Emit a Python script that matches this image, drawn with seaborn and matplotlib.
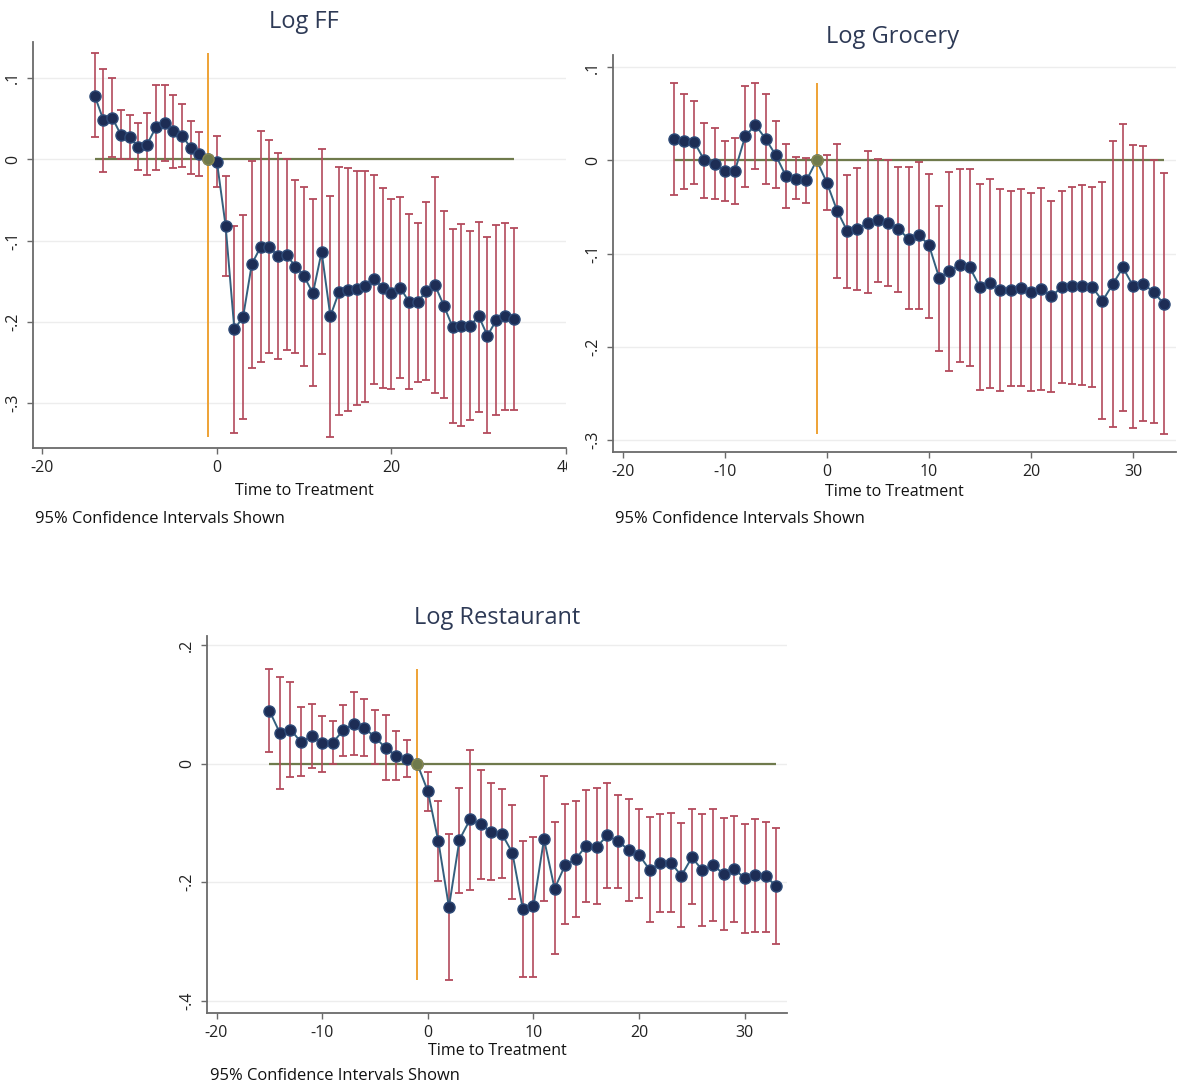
import numpy as np
import pandas as pd
import matplotlib
matplotlib.use("Agg")
import matplotlib.pyplot as plt
import seaborn as sns
from matplotlib.patches import Rectangle

# ---------------- data ----------------
ff_t = list(range(-14, 35))
ff_coef = [0.078, 0.048, 0.051, 0.030, 0.027, 0.015, 0.018, 0.039, 0.045, 0.034,
           0.029, 0.014, 0.0065, 0.0, -0.003, -0.082, -0.209, -0.194, -0.129, -0.108,
           -0.108, -0.119, -0.118, -0.132, -0.144, -0.165, -0.114, -0.193, -0.163, -0.161,
           -0.159, -0.156, -0.147, -0.158, -0.165, -0.158, -0.175, -0.176, -0.162, -0.155,
           -0.180, -0.206, -0.205, -0.205, -0.193, -0.217, -0.198, -0.193, -0.197]
ff_lo = [0.027, -0.016, 0.003, 0.000, 0.000, -0.013, -0.020, -0.013, -0.002, -0.011,
         -0.010, -0.018, -0.021, np.nan, -0.034, -0.143, -0.337, -0.319, -0.257, -0.249,
         -0.238, -0.245, -0.234, -0.238, -0.254, -0.279, -0.240, -0.341, -0.315, -0.310,
         -0.302, -0.298, -0.276, -0.281, -0.283, -0.269, -0.282, -0.274, -0.271, -0.288,
         -0.294, -0.324, -0.328, -0.321, -0.311, -0.337, -0.314, -0.308, -0.308]
ff_hi = [0.130, 0.111, 0.100, 0.061, 0.054, 0.044, 0.057, 0.091, 0.091, 0.079,
         0.068, 0.047, 0.033, np.nan, 0.028, -0.021, -0.082, -0.069, -0.002, 0.035,
         0.023, 0.007, 0.000, -0.025, -0.034, -0.049, 0.013, -0.045, -0.010, -0.011,
         -0.015, -0.014, -0.020, -0.035, -0.049, -0.046, -0.067, -0.078, -0.053, -0.022,
         -0.064, -0.086, -0.080, -0.088, -0.077, -0.096, -0.081, -0.079, -0.085]

gr_t = list(range(-15, 34))
gr_coef = [0.0225, 0.0204, 0.0197, 0.0, -0.0036, -0.0118, -0.011, 0.0258, 0.038, 0.023,
           0.0054, -0.0172, -0.0197, -0.0215, 0.0, -0.024, -0.054, -0.076, -0.074, -0.067,
           -0.064, -0.067, -0.074, -0.084, -0.080, -0.091, -0.126, -0.119, -0.112, -0.115,
           -0.136, -0.132, -0.139, -0.139, -0.137, -0.141, -0.138, -0.146, -0.136, -0.135,
           -0.135, -0.136, -0.151, -0.133, -0.115, -0.135, -0.133, -0.141, -0.154]
gr_lo = [-0.0375, -0.031, -0.0258, -0.040, -0.042, -0.044, -0.0465, -0.029, -0.0097, -0.0258,
         -0.030, -0.051, -0.042, -0.046, np.nan, -0.053, -0.126, -0.137, -0.139, -0.142,
         -0.131, -0.135, -0.141, -0.160, -0.160, -0.169, -0.205, -0.226, -0.216, -0.221,
         -0.246, -0.244, -0.248, -0.242, -0.242, -0.248, -0.246, -0.249, -0.2385, -0.240,
         -0.241, -0.243, -0.278, -0.286, -0.269, -0.287, -0.280, -0.282, -0.294]
gr_hi = [0.083, 0.0715, 0.0637, 0.040, 0.0347, 0.0207, 0.0243, 0.080, 0.083, 0.0715,
         0.0418, 0.018, 0.0036, 0.0029, np.nan, 0.0054, 0.018, -0.016, -0.0079, 0.010,
         0.0018, 0.0007, -0.007, -0.007, -0.002, -0.015, -0.049, -0.0125, -0.0097, -0.009,
         -0.025, -0.0197, -0.031, -0.033, -0.031, -0.035, -0.030, -0.044, -0.033, -0.029,
         -0.027, -0.0286, -0.0236, 0.0207, 0.039, 0.0168, 0.015, 0.0, -0.0136]

rs_t = list(range(-15, 34))
rs_coef = [0.090, 0.052, 0.058, 0.0367, 0.047, 0.0344, 0.0356, 0.057, 0.068, 0.061,
           0.045, 0.027, 0.014, 0.0085, 0.0, -0.046, -0.131, -0.242, -0.128, -0.094,
           -0.102, -0.115, -0.118, -0.150, -0.246, -0.241, -0.127, -0.211, -0.171, -0.161,
           -0.138, -0.140, -0.121, -0.131, -0.145, -0.154, -0.179, -0.168, -0.167, -0.189,
           -0.158, -0.180, -0.171, -0.186, -0.178, -0.193, -0.188, -0.190, -0.207]
rs_lo = [0.020, -0.042, -0.023, -0.021, -0.007, -0.0136, 0.0005, 0.0124, 0.0153, 0.0124,
         -0.001, -0.028, -0.027, -0.023, np.nan, -0.079, -0.198, -0.366, -0.219, -0.213,
         -0.195, -0.197, -0.193, -0.229, -0.360, -0.361, -0.232, -0.322, -0.271, -0.258,
         -0.233, -0.237, -0.210, -0.210, -0.231, -0.227, -0.268, -0.250, -0.250, -0.275,
         -0.237, -0.274, -0.266, -0.280, -0.268, -0.286, -0.284, -0.284, -0.305]
rs_hi = [0.161, 0.146, 0.138, 0.096, 0.1005, 0.081, 0.0717, 0.100, 0.122, 0.110,
         0.091, 0.082, 0.055, 0.0395, np.nan, -0.0136, -0.063, -0.119, -0.040, 0.024,
         -0.0097, -0.032, -0.042, -0.069, -0.131, -0.123, -0.021, -0.099, -0.068, -0.063,
         -0.045, -0.041, -0.032, -0.052, -0.059, -0.077, -0.089, -0.085, -0.083, -0.100,
         -0.077, -0.084, -0.076, -0.0915, -0.0876, -0.101, -0.0927, -0.098, -0.1085]

titles = ["Log FF", "Log Grocery", "Log Restaurant"]
xlabel = "Time to Treatment"
note = "95% Confidence Intervals Shown"
ref_period = -1

ff_xticks = [-20, 0, 20, 40]
gr_xticks = [-20, -10, 0, 10, 20, 30]
rs_xticks = [-20, -10, 0, 10, 20, 30]
ff_yticks = [-0.3, -0.2, -0.1, 0.0, 0.1]
ff_ylabels = ["-.3", "-.2", "-.1", "0", ".1"]
gr_yticks = [-0.3, -0.2, -0.1, 0.0, 0.1]
gr_ylabels = ["-.3", "-.2", "-.1", "0", ".1"]
rs_yticks = [-0.4, -0.2, 0.0, 0.2]
rs_ylabels = ["-.4", "-.2", "0", ".2"]

# ---------------- style ----------------
sns.set_theme(style="white")
plt.rcParams["font.family"] = ["Open Sans", "DejaVu Sans"]

W, H = 1182, 1088
fig = plt.figure(figsize=(W / 100, H / 100), dpi=100)

NAVY = "#1d2d55"
NAVY_EDGE = "#2f4b78"
LINE = "#34607e"
CI = "#b34a5c"
ORANGE = "#eea235"
OLIVE = "#6f7a4c"
TITLE = "#2e3a56"
SPINE = "#6a6a6a"
GRID = "#ededed"


def px_rect(l, r, t, b):
    return [l / W, 1 - b / H, (r - l) / W, (b - t) / H]


def panel(rect, t, coef, lo, hi, xticks, yticks, ylabels, xlim, ylim,
          title, title_xy, xlab_xy, note_xy):
    ax = fig.add_axes(px_rect(*rect))
    df = pd.DataFrame({"t": t, "coef": coef, "lo": lo, "hi": hi})
    ax.set_axisbelow(True)
    ax.yaxis.grid(True, color=GRID, lw=1.0)
    ax.xaxis.grid(False)

    ax.hlines(0, df["t"].min(), df["t"].max(), color=OLIVE, lw=1.6, zorder=1.5)
    ax.vlines(ref_period, df["lo"].min(), df["hi"].max(), color=ORANGE, lw=1.4, zorder=1.6)

    ci = df.dropna()
    ax.errorbar(ci["t"], ci["coef"], yerr=[ci["coef"] - ci["lo"], ci["hi"] - ci["coef"]],
                fmt="none", ecolor=CI, elinewidth=1.2, capsize=3, capthick=1.3, zorder=2)

    sns.lineplot(data=df, x="t", y="coef", ax=ax, color=LINE, lw=1.4, marker="o",
                 markersize=8, markerfacecolor=NAVY, markeredgecolor=NAVY_EDGE,
                 markeredgewidth=1.0, errorbar=None, zorder=3)
    ref = df[df["t"] == ref_period]
    ax.plot(ref["t"], ref["coef"], "o", markersize=8, markerfacecolor=OLIVE,
            markeredgecolor="#8a8a50", markeredgewidth=1.0, zorder=4)

    ax.set_xlim(*xlim)
    ax.set_ylim(*ylim)
    ax.set_xticks(xticks)
    ax.set_xticklabels([str(x) for x in xticks])
    ax.set_yticks(yticks)
    ax.set_yticklabels(ylabels, rotation=90, va="center")
    ax.set_xlabel("")
    ax.set_ylabel("")
    for s in ["top", "right"]:
        ax.spines[s].set_visible(False)
    for s in ["left", "bottom"]:
        ax.spines[s].set_color(SPINE)
        ax.spines[s].set_linewidth(1.3)
    ax.tick_params(axis="both", direction="out", length=4.5, width=1.0, color=SPINE,
                   labelsize=11.5, labelcolor="#222222", pad=4)
    ax.tick_params(axis="x", bottom=True)
    ax.tick_params(axis="y", left=True)

    fig.text(title_xy[0] / W, 1 - title_xy[1] / H, title, ha="center", va="center",
             fontsize=17, color=TITLE)
    fig.text(xlab_xy[0] / W, 1 - xlab_xy[1] / H, xlabel, ha="center", va="center",
             fontsize=11.5, color="#111111")
    fig.text(note_xy[0] / W, 1 - note_xy[1] / H, note, ha="left", va="center",
             fontsize=11.9, color="#111111")
    return ax


panel((33, 566, 42, 448), ff_t, ff_coef, ff_lo, ff_hi, ff_xticks, ff_yticks, ff_ylabels,
      (-21.07, 40.0), (-0.355, 0.144), titles[0], (304, 22), (304, 491), (35, 519))
panel((613, 1176, 55, 452), gr_t, gr_coef, gr_lo, gr_hi, gr_xticks, gr_yticks, gr_ylabels,
      (-20.95, 34.2), (-0.313, 0.113), titles[1], (893, 37), (894, 492), (615, 519))
panel((207, 787, 636, 1013), rs_t, rs_coef, rs_lo, rs_hi, rs_xticks, rs_yticks, rs_ylabels,
      (-20.9, 34.0), (-0.421, 0.216), titles[2], (497, 618), (497, 1051), (210, 1076))

# the reference image crops the last x label of the first panel
fig.add_artist(Rectangle((567 / W, 1 - 482 / H), 22 / W, 26 / H, transform=fig.transFigure,
                         facecolor="white", edgecolor="none", zorder=10))

fig.savefig("out.png", dpi=100, facecolor="white")
